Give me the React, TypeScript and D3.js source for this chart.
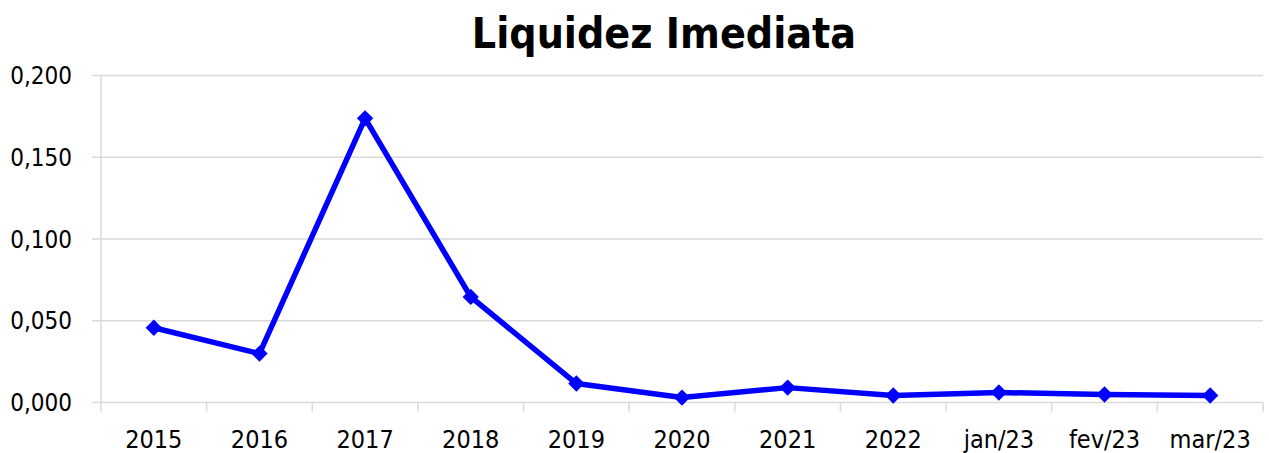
import { useEffect, useRef } from 'react'
import * as d3 from 'd3'

const categories = ['2015', '2016', '2017', '2018', '2019', '2020', '2021', '2022', 'jan/23', 'fev/23', 'mar/23']
const values = [0.0457, 0.0299, 0.1738, 0.0646, 0.0116, 0.003, 0.0091, 0.0043, 0.0061, 0.0049, 0.0043]
const yTicks = [0, 0.05, 0.1, 0.15, 0.2]
const title = 'Liquidez Imediata'

const W = 1269
const H = 453
const FONT = "Tahoma, 'DejaVu Sans Condensed', 'DejaVu Sans', sans-serif"

const fmt = (v: number) => v.toFixed(3).replace('.', ',')

export default function App() {
  const svgRef = useRef<SVGSVGElement>(null)

  useEffect(() => {
    const svg = d3.select(svgRef.current)
    svg.selectAll('*').remove()

    const margin = { top: 75.5, right: 6, bottom: 50.5, left: 101 }
    const innerW = W - margin.left - margin.right
    const innerH = H - margin.top - margin.bottom

    const x = d3.scaleBand<string>().domain(categories).range([0, innerW])
    const y = d3.scaleLinear().domain([0, 0.2]).range([innerH, 0])

    svg.append('text')
      .attr('x', 664)
      .attr('y', 48)
      .attr('text-anchor', 'middle')
      .attr('font-family', FONT)
      .attr('font-weight', 'bold')
      .attr('font-size', 42.5)
      .attr('fill', '#000')
      .text(title)

    const g = svg.append('g').attr('transform', `translate(${margin.left},${margin.top})`)

    // gridlines
    g.append('g')
      .selectAll('line')
      .data(yTicks)
      .join('line')
      .attr('x1', -9)
      .attr('x2', innerW)
      .attr('y1', d => y(d))
      .attr('y2', d => y(d))
      .attr('stroke', '#d9d9d9')
      .attr('stroke-width', 1.5)

    // y axis line
    g.append('line')
      .attr('x1', 0)
      .attr('x2', 0)
      .attr('y1', 0)
      .attr('y2', innerH + 9)
      .attr('stroke', '#d9d9d9')
      .attr('stroke-width', 1.5)

    // x tick marks at category boundaries
    const bounds = categories.map(c => x(c) ?? 0).concat([innerW])
    g.append('g')
      .selectAll('line')
      .data(bounds.slice(1))
      .join('line')
      .attr('x1', d => d)
      .attr('x2', d => d)
      .attr('y1', innerH)
      .attr('y2', innerH + 9)
      .attr('stroke', '#d9d9d9')
      .attr('stroke-width', 1.5)

    g.append('g')
      .selectAll('text')
      .data(yTicks)
      .join('text')
      .attr('x', -29)
      .attr('y', d => y(d))
      .attr('dy', '0.36em')
      .attr('text-anchor', 'end')
      .attr('font-family', FONT)
      .attr('font-size', 24)
      .attr('fill', '#000')
      .text(fmt)

    g.append('g')
      .selectAll('text')
      .data(categories)
      .join('text')
      .attr('x', d => (x(d) ?? 0) + x.bandwidth() / 2)
      .attr('y', innerH + 45.5)
      .attr('text-anchor', 'middle')
      .attr('font-family', FONT)
      .attr('font-size', 25)
      .attr('fill', '#000')
      .text(d => d)

    const data = categories.map((c, i) => ({ c, v: values[i] }))
    const line = d3.line<{ c: string; v: number }>()
      .x(d => (x(d.c) ?? 0) + x.bandwidth() / 2)
      .y(d => y(d.v))

    g.append('path')
      .datum(data)
      .attr('d', line)
      .attr('fill', 'none')
      .attr('stroke', '#0000ff')
      .attr('stroke-width', 5.5)
      .attr('stroke-linejoin', 'round')

    g.append('g')
      .selectAll('path')
      .data(data)
      .join('path')
      .attr('d', d3.symbol(d3.symbolDiamond2, 170)())
      .attr('transform', d => `translate(${(x(d.c) ?? 0) + x.bandwidth() / 2},${y(d.v)})`)
      .attr('fill', '#0000ff')
  }, [])

  return (
    <svg
      ref={svgRef}
      width={W}
      height={H}
      style={{ position: 'fixed', top: 0, left: 0, display: 'block', background: '#fff' }}
    />
  )
}
